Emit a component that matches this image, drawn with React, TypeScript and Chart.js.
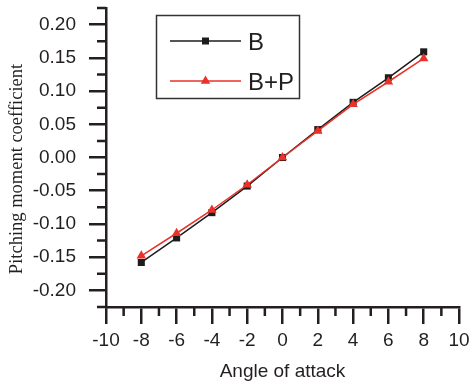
import React, { useEffect, useRef } from 'react';
import { Chart, registerables } from 'chart.js';

Chart.register(...registerables);

const angles = [-8, -6, -4, -2, 0, 2, 4, 6, 8];
const seriesB = [-0.158, -0.121, -0.083, -0.043, 0, 0.042, 0.083, 0.12, 0.159];
const seriesBP = [-0.148, -0.114, -0.079, -0.041, 0, 0.04, 0.08, 0.114, 0.149];
const seriesLabels = ['B', 'B+P'];
const yMajorTicks = [-0.2, -0.15, -0.1, -0.05, 0, 0.05, 0.1, 0.15, 0.2];
const yMinorTicks = [-0.225, -0.175, -0.125, -0.075, -0.025, 0.025, 0.075, 0.125, 0.175, 0.225];
const xMajorTicks = [-10, -8, -6, -4, -2, 0, 2, 4, 6, 8, 10];
const xMinorTicks = [-9, -7, -5, -3, -1, 1, 3, 5, 7, 9];
const xTitle = 'Angle of attack';
const yTitle = 'Pitching moment coefficient';

const AXIS = '#231f20';
const BLACK = '#1c1c1c';
const RED = '#e8322a';
const SANS = 'Arial, "Liberation Sans", sans-serif';
const SERIF = '"Times New Roman", "Liberation Serif", serif';

const minorTicksPlugin = {
  id: 'minorTicks',
  afterDraw(chart: any) {
    const { ctx, chartArea } = chart;
    const x = chart.scales.x;
    const y = chart.scales.y;
    ctx.save();
    ctx.strokeStyle = AXIS;
    ctx.lineWidth = 2.5;
    ctx.beginPath();
    yMinorTicks.forEach((v) => {
      const p = y.getPixelForValue(v);
      ctx.moveTo(chartArea.left, p);
      ctx.lineTo(chartArea.left - 9, p);
    });
    xMinorTicks.forEach((v) => {
      const p = x.getPixelForValue(v);
      ctx.moveTo(p, chartArea.bottom);
      ctx.lineTo(p, chartArea.bottom + 9);
    });
    ctx.stroke();
    ctx.restore();
  },
};

const yTitlePlugin = {
  id: 'yTitle',
  afterDraw(chart: any) {
    const { ctx } = chart;
    ctx.save();
    ctx.translate(17.5, 169);
    ctx.rotate(-Math.PI / 2);
    ctx.font = `18.5px ${SERIF}`;
    ctx.fillStyle = AXIS;
    ctx.textAlign = 'center';
    ctx.textBaseline = 'middle';
    ctx.fillText(yTitle, 0, 0);
    ctx.restore();
  },
};

const legendPlugin = {
  id: 'boxLegend',
  afterDraw(chart: any) {
    const { ctx } = chart;
    const datasets = chart.data.datasets;
    ctx.save();
    ctx.strokeStyle = '#333';
    ctx.lineWidth = 1.5;
    ctx.strokeRect(156.5, 15.5, 143, 83);
    const rows = [41, 81];
    datasets.forEach((ds: any, i: number) => {
      const yy = rows[i];
      ctx.strokeStyle = ds.borderColor;
      ctx.lineWidth = ds.borderWidth;
      ctx.beginPath();
      ctx.moveTo(170, yy);
      ctx.lineTo(241, yy);
      ctx.stroke();
      ctx.fillStyle = ds.backgroundColor;
      ctx.beginPath();
      if (ds.pointStyle === 'rect') {
        ctx.rect(205.5 - 3.5, yy - 3.5, 7, 7);
      } else {
        const r = 5.5;
        ctx.moveTo(205.5, yy - r);
        ctx.lineTo(205.5 + r * 0.866, yy + r * 0.5);
        ctx.lineTo(205.5 - r * 0.866, yy + r * 0.5);
        ctx.closePath();
      }
      ctx.fill();
      ctx.fillStyle = AXIS;
      ctx.font = `24px ${SANS}`;
      ctx.textAlign = 'left';
      ctx.textBaseline = 'middle';
      ctx.fillText(ds.label, 248, yy + 2);
    });
    ctx.restore();
  },
};

export default function App() {
  const ref = useRef<HTMLCanvasElement | null>(null);

  useEffect(() => {
    if (!ref.current) return;
    const chart = new Chart(ref.current, {
      type: 'scatter',
      data: {
        datasets: [
          {
            label: seriesLabels[0],
            data: angles.map((a, i) => ({ x: a, y: seriesB[i] })),
            showLine: true,
            borderColor: BLACK,
            backgroundColor: BLACK,
            borderWidth: 1.5,
            pointStyle: 'rect',
            pointRadius: 5,
            pointBorderWidth: 0,
            order: 2,
          },
          {
            label: seriesLabels[1],
            data: angles.map((a, i) => ({ x: a, y: seriesBP[i] })),
            showLine: true,
            borderColor: RED,
            backgroundColor: RED,
            borderWidth: 1.5,
            pointStyle: 'triangle',
            pointRadius: 5.5,
            pointBorderWidth: 0,
            order: 1,
          },
        ],
      },
      options: {
        animation: false,
        responsive: false,
        maintainAspectRatio: false,
        layout: { padding: { top: 8, right: 12, left: 0, bottom: 0 } },
        plugins: { legend: { display: false }, tooltip: { enabled: false } },
        scales: {
          x: {
            type: 'linear',
            min: -10,
            max: 10,
            afterBuildTicks: (s: any) => {
              s.ticks = xMajorTicks.map((v) => ({ value: v }));
            },
            afterFit: (s: any) => {
              s.height = 77;
              s.paddingLeft = 0;
              s.paddingRight = 0;
            },
            grid: {
              drawOnChartArea: false,
              drawTicks: true,
              tickLength: 17,
              lineWidth: 2.5,
              tickWidth: 2.5,
              tickColor: AXIS,
              color: AXIS,
            },
            border: { display: true, width: 2.5, color: AXIS },
            ticks: {
              padding: 5,
              color: AXIS,
              font: { size: 19, family: SANS },
              maxRotation: 0,
              autoSkip: false,
              callback: (v: any) => String(v),
            },
            title: {
              display: true,
              text: xTitle,
              color: AXIS,
              font: { size: 19, family: SANS },
              padding: { top: 0, bottom: 1 },
            },
          },
          y: {
            type: 'linear',
            min: -0.225,
            max: 0.225,
            afterBuildTicks: (s: any) => {
              s.ticks = yMajorTicks.map((v) => ({ value: v }));
            },
            afterFit: (s: any) => {
              s.width = 106;
              s.paddingTop = 0;
              s.paddingBottom = 0;
            },
            grid: {
              drawOnChartArea: false,
              drawTicks: true,
              tickLength: 17,
              lineWidth: 2.5,
              tickWidth: 2.5,
              tickColor: AXIS,
              color: AXIS,
            },
            border: { display: true, width: 2.5, color: AXIS },
            ticks: {
              padding: 13,
              color: AXIS,
              font: { size: 19, family: SANS },
              autoSkip: false,
              callback: (v: any) => Number(v).toFixed(2),
            },
          },
        },
      },
      plugins: [minorTicksPlugin, yTitlePlugin, legendPlugin],
    } as any);
    return () => chart.destroy();
  }, []);

  return (
    <div style={{ position: 'absolute', left: 0, top: 0, width: 471, height: 384, background: '#fff' }}>
      <canvas ref={ref} width={471} height={384} style={{ display: 'block' }} />
    </div>
  );
}
